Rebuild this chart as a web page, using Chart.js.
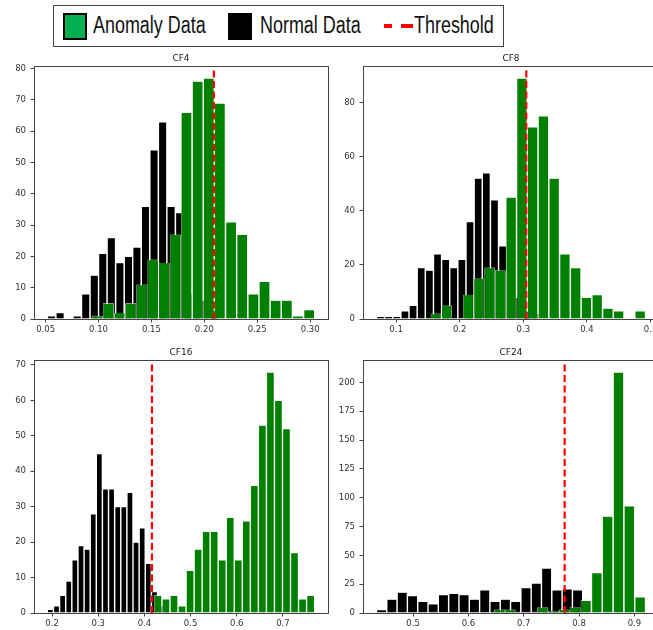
<!DOCTYPE html>
<html>
<head>
<meta charset="utf-8">
<script src="https://cdn.jsdelivr.net/npm/chart.js@4.4.1/dist/chart.umd.min.js"></script>
<style>
  html, body { margin: 0; padding: 0; width: 653px; height: 630px; overflow: hidden; background: #fff; }
  canvas { position: absolute; }
  #legend { position: absolute; left: 53px; top: 5px; width: 451px; height: 42px; box-sizing: border-box;
            border: 1.5px solid #444; font-family: 'Liberation Sans', sans-serif;
            font-size: 23px; color: #111; }
  #legend span { position: absolute; top: 6px; line-height: 26px; white-space: nowrap;
                 transform: scaleX(0.78); transform-origin: 0 50%; }
  #legend .sw { position: absolute; top: 7px; width: 24px; height: 27px; box-sizing: border-box; border: 2px solid #000; }
  #legend .dash { position: absolute; top: 18px; height: 4px; background: #f00; }
</style>
</head>
<body>
<div id="legend">
  <div class="sw" style="left:9px;background:#00b050"></div><span style="left:39px">Anomaly Data</span>
  <div class="sw" style="left:174px;background:#000"></div><span style="left:206px">Normal Data</span>
  <div class="dash" style="left:330px;width:8px"></div><div class="dash" style="left:347px;width:12px"></div>
  <span style="left:360px">Threshold</span>
</div>
<script>
// ── Данные ────────────────────────────────────────────────
const titles     = ['CF4', 'CF8', 'CF16', 'CF24']
const thresholds = [0.209, 0.3047, 0.4163, 0.7739]
const xLimits    = [[0.039, 0.3169], [0.0481, 0.5132], [0.1609, 0.7976], [0.4095, 0.9444]]
const yLimits    = [80.85, 93.45, 71.4, 219.45]

const xTicks = [
  [0.05, 0.10, 0.15, 0.20, 0.25, 0.30],
  [0.1, 0.2, 0.3, 0.4, 0.5],
  [0.2, 0.3, 0.4, 0.5, 0.6, 0.7],
  [0.5, 0.6, 0.7, 0.8, 0.9]
]
const xTickLabels = [
  ['0.05', '0.10', '0.15', '0.20', '0.25', '0.30'],
  ['0.1', '0.2', '0.3', '0.4', '0.5'],
  ['0.2', '0.3', '0.4', '0.5', '0.6', '0.7'],
  ['0.5', '0.6', '0.7', '0.8', '0.9']
]
const yTicks = [
  [0, 10, 20, 30, 40, 50, 60, 70, 80],
  [0, 20, 40, 60, 80],
  [0, 10, 20, 30, 40, 50, 60, 70],
  [0, 25, 50, 75, 100, 125, 150, 175, 200]
]

// CF4
const cf4NormalBins    = [0.0556, 0.0637, 0.0717, 0.0798, 0.0879, 0.0960, 0.1040, 0.1121, 0.1202, 0.1283,
                          0.1363, 0.1444, 0.1525, 0.1606, 0.1686, 0.1767, 0.1848, 0.1929, 0.2009, 0.2090]
const cf4NormalCounts  = [1, 2, 0, 1, 8, 14, 21, 26, 18, 20, 23, 36, 54, 63, 36, 34, 8, 10, 6, 3]
const cf4AnomalyBins   = [0.0988, 0.1093, 0.1199, 0.1304, 0.1410, 0.1515, 0.1620, 0.1726, 0.1831, 0.1937,
                          0.2042, 0.2147, 0.2253, 0.2358, 0.2464, 0.2569, 0.2674, 0.2780, 0.2885, 0.2991]
const cf4AnomalyCounts = [1, 5, 2, 5, 11, 19, 18, 27, 66, 76, 77, 69, 31, 27, 8, 12, 6, 6, 1, 3]

// CF8
const cf8NormalBins    = [0.0756, 0.0884, 0.1012, 0.1140, 0.1268, 0.1396, 0.1524, 0.1652, 0.1780, 0.1907,
                          0.2035, 0.2163, 0.2291, 0.2419, 0.2547, 0.2675, 0.2803, 0.2931, 0.3059, 0.3187]
const cf8NormalCounts  = [1, 1, 1, 3, 5, 19, 18, 24, 22, 19, 22, 36, 52, 54, 44, 27, 14, 8, 3, 2]
const cf8AnomalyBins   = [0.1627, 0.1796, 0.1965, 0.2134, 0.2303, 0.2472, 0.2640, 0.2809, 0.2978, 0.3147,
                          0.3316, 0.3485, 0.3654, 0.3823, 0.3992, 0.4161, 0.4330, 0.4498, 0.4667, 0.4836]
const cf8AnomalyCounts = [2, 5, 0, 9, 15, 19, 18, 45, 89, 71, 75, 52, 24, 19, 8, 9, 4, 3, 0, 3]

// CF16
const cf16NormalBins    = [0.1964, 0.2097, 0.2229, 0.2362, 0.2494, 0.2627, 0.2759, 0.2892, 0.3024, 0.3157,
                           0.3289, 0.3422, 0.3554, 0.3687, 0.3819, 0.3952, 0.4084, 0.4217, 0.4349, 0.4482]
const cf16NormalCounts  = [1, 2, 5, 9, 15, 19, 18, 28, 45, 35, 35, 30, 30, 34, 20, 24, 14, 6, 2, 1]
const cf16AnomalyBins   = [0.4293, 0.4467, 0.4641, 0.4815, 0.4989, 0.5163, 0.5337, 0.5511, 0.5685, 0.5859,
                           0.6033, 0.6207, 0.6381, 0.6555, 0.6729, 0.6903, 0.7077, 0.7251, 0.7425, 0.7599]
const cf16AnomalyCounts = [5, 4, 5, 2, 12, 18, 23, 23, 15, 27, 15, 26, 36, 53, 68, 60, 52, 17, 4, 5]

// CF24
const cf24NormalBins    = [0.4431, 0.4617, 0.4804, 0.4990, 0.5177, 0.5363, 0.5549, 0.5736, 0.5922, 0.6109,
                           0.6295, 0.6481, 0.6668, 0.6854, 0.7041, 0.7227, 0.7413, 0.7600, 0.7786, 0.7973]
const cf24NormalCounts  = [3, 12, 18, 15, 10, 8, 16, 17, 16, 12, 20, 10, 12, 10, 22, 26, 39, 20, 21, 20]
const cf24AnomalyBins   = [0.5385, 0.5581, 0.5776, 0.5972, 0.6168, 0.6364, 0.6559, 0.6755, 0.6951, 0.7146,
                           0.7342, 0.7538, 0.7733, 0.7929, 0.8125, 0.8321, 0.8516, 0.8712, 0.8908, 0.9103]
const cf24AnomalyCounts = [1, 0, 0, 0, 0, 0, 3, 3, 1, 1, 5, 2, 3, 5, 11, 35, 84, 209, 93, 14]

// ── Рамка осей и заголовок по центру области графика ─────
const axesFrame = {
  id: 'axesFrame',
  afterDraw(chart) {
    const { ctx, chartArea: a } = chart
    ctx.save()
    ctx.strokeStyle = '#444'
    ctx.lineWidth = 1
    ctx.strokeRect(Math.round(a.left) + 0.5, Math.round(a.top) + 0.5, Math.round(a.width), Math.round(a.height))
    ctx.fillStyle = '#222'
    ctx.font = '9px "DejaVu Sans"'
    ctx.textAlign = 'center'
    ctx.textBaseline = 'alphabetic'
    ctx.fillText(chart.options.plugins.axesFrame.title, (a.left + a.right) / 2, a.top - 5)
    ctx.restore()
  }
}

const tickFont = { family: 'DejaVu Sans', size: 8.5 }
const toPoints = (xs, ys) => xs.map((x, k) => ({ x, y: ys[k] }))

function drawPanel(i, box, normalBins, normalCounts, anomalyBins, anomalyCounts) {
  const cv = document.createElement('canvas')
  cv.width = box.w
  cv.height = 293
  cv.style.left = box.x + 'px'
  cv.style.top = box.y + 'px'
  document.body.appendChild(cv)

  const barEdge = { left: 0.7, right: 0.7, top: 0.6, bottom: 0 }

  new Chart(cv, {
    type: 'bar',
    data: {
      datasets: [
        {
          type: 'line',
          data: [{ x: thresholds[i], y: 0 }, { x: thresholds[i], y: yLimits[i] }],
          borderColor: '#ff0000', borderWidth: 2.2, borderDash: [7, 3.5],
          pointRadius: 0, xAxisID: 'x', order: 0
        },
        {
          data: toPoints(anomalyBins, anomalyCounts),
          backgroundColor: '#008000', borderColor: '#ffffff', borderWidth: barEdge,
          xAxisID: 'x2', order: 1
        },
        {
          data: toPoints(normalBins, normalCounts),
          backgroundColor: '#000000', borderColor: '#ffffff', borderWidth: barEdge,
          xAxisID: 'x', order: 2
        }
      ]
    },
    options: {
      responsive: false,
      animation: false,
      events: [],
      layout: { padding: { top: 20, right: 8, bottom: 6, left: 0 } },
      plugins: {
        legend: { display: false },
        tooltip: { enabled: false },
        axesFrame: { title: titles[i] }
      },
      datasets: {
        bar: { categoryPercentage: 1, barPercentage: 1, grouped: false, inflateAmount: 0, borderSkipped: 'start' }
      },
      scales: {
        x: {
          type: 'linear', min: xLimits[i][0], max: xLimits[i][1], offset: false,
          afterBuildTicks: s => { s.ticks = xTicks[i].map(v => ({ value: v })) },
          afterFit: s => { s.height = 14 },
          ticks: { callback: (v, k) => xTickLabels[i][k], autoSkip: false, maxRotation: 0, padding: 2, font: tickFont, color: '#333' },
          grid: { offset: false, drawOnChartArea: false, tickLength: 3.5, color: '#444' },
          border: { display: false }
        },
        x2: { type: 'linear', min: xLimits[i][0], max: xLimits[i][1], offset: false, display: false },
        y: {
          min: 0, max: yLimits[i],
          afterBuildTicks: s => { s.ticks = yTicks[i].map(v => ({ value: v })) },
          afterFit: s => { s.width = box.yw },
          ticks: { padding: 4.5, font: tickFont, color: '#333' },
          grid: { drawOnChartArea: false, tickLength: 3.5, color: '#444' },
          border: { display: false }
        }
      }
    },
    plugins: [axesFrame]
  })
}

drawPanel(0, { x: 0,   y: 46,  w: 336, yw: 34 }, cf4NormalBins,  cf4NormalCounts,  cf4AnomalyBins,  cf4AnomalyCounts)
drawPanel(1, { x: 325, y: 46,  w: 342, yw: 38 }, cf8NormalBins,  cf8NormalCounts,  cf8AnomalyBins,  cf8AnomalyCounts)
drawPanel(2, { x: 0,   y: 340, w: 336, yw: 34 }, cf16NormalBins, cf16NormalCounts, cf16AnomalyBins, cf16AnomalyCounts)
drawPanel(3, { x: 325, y: 340, w: 342, yw: 38 }, cf24NormalBins, cf24NormalCounts, cf24AnomalyBins, cf24AnomalyCounts)
</script>
</body>
</html>
